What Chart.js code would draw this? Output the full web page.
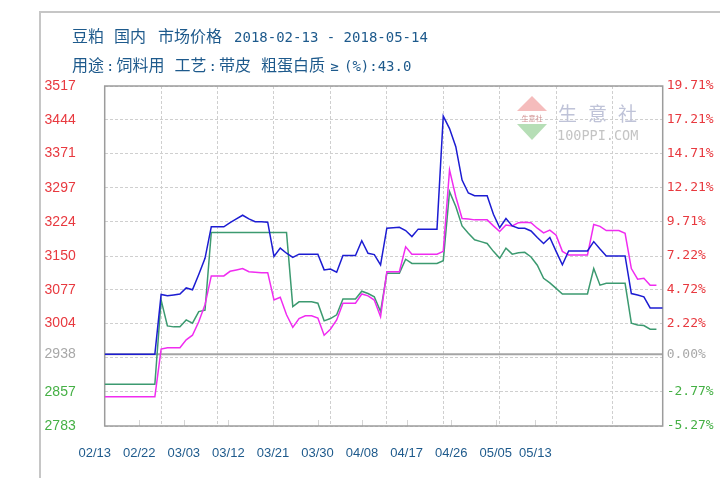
<!DOCTYPE html>
<html>
<head>
<meta charset="utf-8">
<script src="https://cdn.jsdelivr.net/npm/chart.js@4.4.0/dist/chart.umd.min.js"></script>
<style>
html, body { margin: 0; padding: 0; background: #fff; }
#wrap { position: relative; width: 720px; height: 478px; overflow: hidden; }
#myChart { position: absolute; left: 0; top: 0; }
#frame { position: absolute; left: 39px; top: 11px; width: 720px; height: 500px;
  border-left: 2px solid #c6c6c6; border-top: 2px solid #c6c6c6; }
.t { position: absolute; left: 72px; font-family: "Noto Sans CJK SC", sans-serif;
  font-size: 16px; line-height: 18px; color: #1e5a8c; white-space: pre; }
.t .m { font-family: "DejaVu Sans Mono", monospace; font-size: 14px; }
.t .c { font-family: "DejaVu Sans Mono", monospace; font-size: 14px; padding: 0 2px; }
.t .ge { display: inline-block; width: 19px; text-align: center; font-family: "DejaVu Sans Mono", monospace; font-size: 14px; }
#logo { position: absolute; left: 517px; top: 96px; pointer-events: none; }
#logo .up { position: absolute; left: 0; top: 0; width: 0; height: 0;
  border-left: 15px solid transparent; border-right: 15px solid transparent; border-bottom: 15px solid #f5bcbc; }
#logo .band { position: absolute; left: 0; top: 17px; width: 30px; font: 7px "Noto Sans CJK SC"; color: #d09090; text-align: center; }
#logo .down { position: absolute; left: 0; top: 28px; width: 0; height: 0;
  border-left: 15px solid transparent; border-right: 15px solid transparent; border-top: 16px solid #b6deb6; }
#logo .big { position: absolute; left: 41px; top: 3px; font: 19px "Noto Sans CJK SC"; letter-spacing: 11px;
  color: #bfc3d8; white-space: nowrap; }
#logo .small { position: absolute; left: 40px; top: 31px; font: 13.5px "DejaVu Sans Mono"; color: #c4c4c4; white-space: nowrap; }
</style>
</head>
<body>
<div id="wrap">
  <canvas id="myChart" width="720" height="478"></canvas>
  <div id="frame"></div>
  <div class="t" style="top:26px">豆粕<span style="margin-left:10px">国内</span><span style="margin-left:12px">市场价格</span><span class="m" style="margin-left:12px">2018-02-13 - 2018-05-14</span></div>
  <div class="t" style="top:55px">用途<span class="c">:</span>饲料用<span style="margin-left:10px">工艺</span><span class="c">:</span>带皮<span style="margin-left:10px">粗蛋白质</span><span class="ge">≥</span><span class="m">(%):43.0</span></div>
  <div id="logo">
    <div class="up"></div><div class="band">生意社</div><div class="down"></div>
    <div class="big">生意社</div><div class="small">100PPI.COM</div>
  </div>
</div>
<script>
// Tage 02/13 .. 05/13
const dates = [];
for (let d = new Date(2018, 1, 13); dates.length < 90; d.setDate(d.getDate() + 1)) {
    dates.push(String(d.getMonth() + 1).padStart(2, "0") + "/" + String(d.getDate()).padStart(2, "0"));
}

const xTickLabels = ["02/13", "02/22", "03/03", "03/12", "03/21", "03/30", "04/08", "04/17", "04/26", "05/05", "05/13"];

const basePrice = 2938;
const leftTickLabels = ["3517", "3444", "3371", "3297", "3224", "3150", "3077", "3004", "2938", "2857", "2783"];
const rightTickLabels = ["19.71%", "17.21%", "14.71%", "12.21%", "9.71%", "7.22%", "4.72%", "2.22%", "0.00%", "-2.77%", "-5.27%"];
const extraGridValue = 2930;   // gestrichelte Linie knapp unter der 0-Linie

const seriesBlue = [
    2938, 2938, 2938, 2938, 2938, 2938, 2938, 2938, 2938, 3067,
    3064, 3066, 3068, 3081, 3077, 3110, 3145, 3213, 3213, 3213,
    3222, 3230, 3238, 3230, 3224, 3224, 3223, 3149, 3167, 3156,
    3147, 3154, 3154, 3154, 3154, 3120, 3122, 3115, 3151, 3151,
    3151, 3183, 3156, 3153, 3131, 3210, 3211, 3212, 3205, 3192,
    3208, 3208, 3208, 3208, 3452, 3425, 3386, 3314, 3286, 3280,
    3280, 3280, 3240, 3211, 3231, 3215, 3210, 3210, 3204, 3190,
    3177, 3190, 3160, 3131, 3161, 3161, 3161, 3161, 3181, 3165,
    3150, 3150, 3150, 3150, 3069, 3066, 3062, 3038, 3038, 3038
];

const seriesMagenta = [
    2846, 2846, 2846, 2846, 2846, 2846, 2846, 2846, 2846, 2949,
    2952, 2952, 2952, 2969, 2979, 3008, 3045, 3107, 3107, 3107,
    3117, 3120, 3123, 3116, 3115, 3114, 3114, 3055, 3061, 3023,
    2996, 3015, 3021, 3021, 3016, 2979, 2992, 3012, 3048, 3048,
    3048, 3068, 3064, 3055, 3019, 3116, 3116, 3116, 3170, 3154,
    3154, 3154, 3154, 3154, 3160, 3336, 3278, 3231, 3230, 3228,
    3228, 3228, 3215, 3203, 3217, 3215, 3222, 3223, 3222, 3210,
    3200, 3206, 3195, 3160, 3152, 3152, 3152, 3152, 3218, 3214,
    3205, 3205, 3205, 3199, 3123, 3100, 3102, 3087, 3087, null
];

const seriesGreen = [
    2873, 2873, 2873, 2873, 2873, 2873, 2873, 2873, 2873, 3055,
    2999, 2997, 2997, 3012, 3005, 3030, 3033, 3201, 3201, 3201,
    3201, 3201, 3201, 3201, 3201, 3201, 3201, 3201, 3201, 3201,
    3041, 3051, 3051, 3051, 3048, 3010, 3015, 3023, 3057, 3057,
    3057, 3074, 3069, 3062, 3030, 3113, 3113, 3113, 3143, 3134,
    3134, 3134, 3134, 3134, 3140, 3289, 3257, 3215, 3199, 3185,
    3181, 3177, 3160, 3145, 3167, 3154, 3157, 3158, 3148, 3130,
    3102, 3092, 3080, 3068, 3068, 3068, 3068, 3068, 3123, 3087,
    3091, 3091, 3091, 3091, 3005, 3001, 3000, 2992, 2992, null
];

//Punkte {x: Tag, y: Wert}
function toPoints(arr) {
    return arr.map((v, i) => ({ x: i, y: v }));
}

function tickColor(v, base) {
    if (v > base) return "#e8393f";
    if (v < base) return "#45b045";
    return "#a8a8a8";
}

const leftMin = Number(leftTickLabels[leftTickLabels.length - 1]);
const leftMax = Number(leftTickLabels[0]);
const pctMin = (leftMin / basePrice - 1) * 100;
const pctMax = (leftMax / basePrice - 1) * 100;
const labelAxisMax = 112.7;   // Beschriftung ist im Original gestaucht
const labelShift = -10;

// Rahmen, 0-Linie und kleine Striche der Beschriftung
const framePlugin = {
    id: "frame",
    beforeDatasetsDraw(chart) {
        const { ctx, chartArea: a, scales } = chart;
        const yb = scales.y.getPixelForValue(basePrice);
        ctx.save();
        ctx.strokeStyle = "#a4a4a4";
        ctx.lineWidth = 2;
        ctx.beginPath();
        ctx.moveTo(a.left, yb);
        ctx.lineTo(a.right, yb);
        ctx.stroke();
        ctx.strokeStyle = "#d4d4d4";
        ctx.lineWidth = 1;
        scales.xl.ticks.forEach((t, i) => {
            if (i === 0) return;
            const px = Math.round(scales.xl.getPixelForValue(t.value) + labelShift) + 0.5;
            ctx.beginPath();
            ctx.moveTo(px, a.bottom);
            ctx.lineTo(px, a.bottom - 6);
            ctx.stroke();
        });
        ctx.strokeStyle = "#9c9c9c";
        ctx.lineWidth = 1.5;
        ctx.strokeRect(a.left, a.top, a.right - a.left, a.bottom - a.top);
        ctx.restore();
    }
};

const data = {
    datasets: [
        {
            label: "blue",
            data: toPoints(seriesBlue),
            borderColor: "#1c1cd2",
            borderWidth: 1.5,
            pointRadius: 0,
            tension: 0,
        },
        {
            label: "magenta",
            data: toPoints(seriesMagenta),
            borderColor: "#f02cf0",
            borderWidth: 1.5,
            pointRadius: 0,
            tension: 0,
        },
        {
            label: "green",
            data: toPoints(seriesGreen),
            borderColor: "#3c9a70",
            borderWidth: 1.5,
            pointRadius: 0,
            tension: 0,
        }
    ]
};

const config = {
    type: "line",
    data: data,
    plugins: [framePlugin],
    options: {
        responsive: false,
        animation: false,
        layout: { padding: { top: 86, left: 0, right: 0, bottom: 0 } },
        scales: {
            x: {
                type: "linear",
                min: 0,
                max: dates.length - 1,
                afterBuildTicks: (axis) => {
                    axis.ticks = xTickLabels.map(l => ({ value: dates.indexOf(l) }));
                },
                afterFit: (axis) => { axis.height = 0; },
                ticks: { display: false },
                grid: { color: "#cfcfcf", lineWidth: 1, drawTicks: false },
                border: { display: false, dash: [3, 2] }
            },
            xl: {
                type: "linear",
                position: "bottom",
                weight: 1,
                min: 0,
                max: labelAxisMax,
                afterBuildTicks: (axis) => {
                    axis.ticks = xTickLabels.map(l => ({ value: dates.indexOf(l) }));
                },
                afterFit: (axis) => { axis.height = 52; },
                ticks: {
                    callback: (v) => dates[v],
                    labelOffset: labelShift,
                    padding: 12,
                    autoSkip: false,
                    maxRotation: 0,
                    color: "#1e5a8c",
                    font: { family: "Liberation Sans", size: 13 }
                },
                grid: { display: false },
                border: { display: false }
            },
            y: {
                position: "left",
                min: leftMin,
                max: leftMax,
                afterBuildTicks: (axis) => {
                    axis.ticks = leftTickLabels.map(l => ({ value: Number(l) }));
                    axis.ticks.push({ value: extraGridValue });
                },
                afterFit: (axis) => { axis.width = 104.7; },
                ticks: {
                    padding: 29,
                    autoSkip: false,
                    callback: (v) => (v === extraGridValue ? "" : String(v)),
                    color: (c) => tickColor(c.tick.value, basePrice),
                    font: { family: "Liberation Sans", size: 14 }
                },
                grid: {
                    drawTicks: false,
                    color: (c) => (c.tick && c.tick.value === basePrice ? "rgba(0,0,0,0)" : "#cfcfcf"),
                    lineWidth: 1
                },
                border: { display: false, dash: [3, 2] }
            },
            y2: {
                position: "right",
                min: pctMin,
                max: pctMax,
                afterBuildTicks: (axis) => {
                    axis.ticks = rightTickLabels.map(l => ({ value: parseFloat(l) }));
                },
                afterFit: (axis) => { axis.width = 720 - 662.7; },
                ticks: {
                    padding: 4,
                    autoSkip: false,
                    callback: (v) => v.toFixed(2) + "%",
                    color: (c) => tickColor(c.tick.value, 0),
                    font: { family: "DejaVu Sans Mono", size: 13 }
                },
                grid: { display: false, drawTicks: false },
                border: { display: false }
            }
        },
        plugins: {
            legend: { display: false },
            tooltip: { enabled: false }
        },
        hover: { mode: null }
    }
};

const myChart = new Chart(document.getElementById("myChart"), config);
</script>
</body>
</html>
